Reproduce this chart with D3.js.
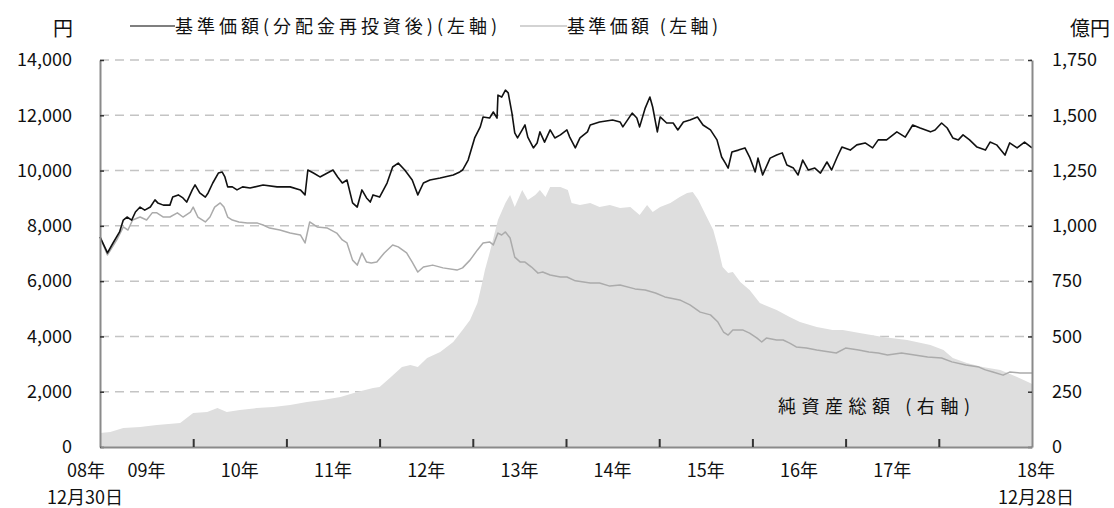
<!DOCTYPE html>
<html><head><meta charset="utf-8">
<script src="https://cdn.jsdelivr.net/npm/d3@7"></script>
<style>
html,body{margin:0;padding:0;background:#fff;}
svg text{font-family:"Noto Sans CJK JP","Noto Sans",sans-serif;fill:#111;}
</style></head>
<body><svg id="c" width="1114" height="508"></svg>
<script>
// ---- data (decimal years, 2009.00 = 2008-12-30, 2019.00 = 2018-12-28) ----
const leftTicks = [0,2000,4000,6000,8000,10000,12000,14000];
const rightTicks = [0,250,500,750,1000,1250,1500,1750];
const yearTicks = [2010,2011,2012,2013,2014,2015,2016,2017,2018];
const yearLabels = ["09年","10年","11年","12年","13年","14年","15年","16年","17年"];
const startLabel = ["08年","12月30日"];
const endLabel = ["18年","12月28日"];
const legendNames = ["基準価額(分配金再投資後)(左軸)","基準価額 (左軸)"];
const areaName = "純資産総額 (右軸)";

// 基準価額(分配金再投資後)
const reinvDates = [2009.00,2009.08,2009.14,2009.21,2009.25,2009.29,2009.34,2009.38,2009.43,2009.48,2009.54,2009.59,2009.62,2009.68,2009.75,2009.78,2009.84,2009.89,2009.93,2009.99,
2010.02,2010.07,2010.13,2010.16,2010.21,2010.27,2010.31,2010.34,2010.37,2010.42,2010.47,2010.53,2010.61,2010.75,2010.90,
2011.04,2011.15,2011.20,2011.23,2011.29,2011.36,2011.44,2011.50,2011.55,2011.60,2011.65,2011.71,2011.76,2011.81,2011.86,2011.90,2011.93,
2012.00,2012.08,2012.14,2012.20,2012.27,2012.35,2012.41,2012.47,2012.54,2012.65,2012.79,2012.86,2012.89,2012.95,
2013.02,2013.08,2013.11,2013.18,2013.22,2013.26,2013.27,2013.31,2013.35,2013.38,2013.42,2013.45,2013.48,2013.53,2013.56,2013.59,2013.65,2013.69,2013.72,2013.77,2013.83,2013.88,2013.94,
2014.01,2014.04,2014.10,2014.15,2014.23,2014.26,2014.36,2014.50,2014.58,2014.61,2014.71,2014.76,2014.79,2014.85,2014.90,2014.93,2014.98,
2015.01,2015.08,2015.15,2015.20,2015.26,2015.33,2015.41,2015.47,2015.55,2015.62,2015.67,2015.71,2015.74,2015.78,2015.85,2015.92,2015.97,
2016.03,2016.06,2016.11,2016.19,2016.26,2016.32,2016.37,2016.44,2016.49,2016.54,2016.60,2016.67,2016.73,2016.80,2016.85,2016.91,2016.96,
2017.05,2017.12,2017.21,2017.29,2017.35,2017.44,2017.55,2017.64,2017.72,2017.80,2017.91,2017.96,
2018.03,2018.09,2018.15,2018.21,2018.26,2018.33,2018.41,2018.50,2018.55,2018.62,2018.71,2018.76,2018.84,2018.92,2019.00];
const reinvValues = [7600,7020,7380,7780,8210,8320,8210,8500,8680,8570,8680,8940,8830,8750,8750,9040,9120,9010,8860,9300,
9480,9190,9040,9190,9550,9910,9950,9770,9410,9410,9300,9410,9370,9480,9410,
9410,9300,9120,10020,9910,9770,9910,10020,9770,9550,9660,8830,8680,9300,9010,8860,9120,
9040,9550,10130,10270,10020,9660,9120,9550,9660,9730,9840,9950,10020,10380,
11180,11580,11940,11900,12120,11900,12730,12660,12910,12810,12080,11360,11180,11470,11650,11210,10820,11000,11400,11030,11470,11180,11290,
11470,11210,10820,11180,11400,11650,11760,11830,11760,11580,12080,11900,11580,12260,12660,12300,11400,
11940,11720,11720,11470,11760,11830,11940,11650,11470,11110,10490,10270,10090,10670,10740,10820,10490,
9950,10450,9840,10450,10560,10640,10200,10090,9840,10380,10020,10090,9910,10310,10020,10490,10850,
10740,10930,11000,10820,11110,11110,11400,11210,11650,11540,11400,11470,
11720,11540,11180,11110,11290,11110,10850,10740,11030,10930,10560,11000,10820,11030,10820];

// 基準価額
const navDates = [2009.00,2009.08,2009.18,2009.25,2009.30,2009.35,2009.43,2009.50,2009.56,2009.61,2009.68,2009.75,2009.83,2009.89,2009.97,2010.00,
2010.05,2010.13,2010.18,2010.23,2010.29,2010.33,2010.37,2010.42,2010.49,2010.58,2010.69,2010.75,2010.82,2010.93,
2011.04,2011.15,2011.20,2011.25,2011.33,2011.44,2011.54,2011.60,2011.65,2011.71,2011.76,2011.81,2011.86,2011.91,2011.97,
2012.05,2012.14,2012.20,2012.29,2012.35,2012.41,2012.47,2012.57,2012.68,2012.83,2012.89,2012.97,
2013.05,2013.11,2013.18,2013.22,2013.27,2013.31,2013.35,2013.40,2013.45,2013.51,2013.56,2013.63,2013.70,2013.75,2013.83,2013.94,
2014.01,2014.10,2014.26,2014.36,2014.47,2014.58,2014.74,2014.85,2014.96,
2015.06,2015.22,2015.33,2015.44,2015.55,2015.63,2015.69,2015.74,2015.79,2015.90,2015.97,
2016.05,2016.10,2016.15,2016.26,2016.33,2016.40,2016.47,2016.58,2016.69,2016.83,2016.90,
2017.00,2017.14,2017.25,2017.35,2017.45,2017.60,2017.74,2017.88,
2018.03,2018.14,2018.29,2018.43,2018.50,2018.58,2018.69,2018.76,2018.87,2019.00];
const navValues = [7600,6950,7490,7960,7850,8210,8320,8210,8470,8470,8320,8320,8470,8320,8500,8680,
8320,8140,8320,8680,8830,8680,8320,8210,8140,8100,8100,8030,7920,7850,
7740,7670,7380,8140,7960,7920,7740,7490,7380,6760,6580,7020,6690,6660,6690,
7020,7310,7240,7020,6690,6330,6510,6580,6480,6400,6480,6760,
7130,7380,7420,7310,7740,7670,7780,7560,6870,6690,6690,6510,6290,6330,6220,6150,
6150,6010,5930,5930,5820,5860,5720,5680,5570,
5430,5320,5140,4880,4780,4520,4160,4050,4230,4230,4120,
3940,3800,3940,3870,3870,3760,3620,3580,3510,3440,3400,
3580,3510,3440,3400,3330,3400,3330,3260,
3220,3080,2970,2890,2790,2710,2600,2710,2680,2680];

// 純資産総額 (億円)
const aumDates = [2009.00,2009.11,2009.25,2009.43,2009.61,2009.86,2009.93,2010.00,
2010.15,2010.26,2010.36,2010.50,2010.68,2010.86,2011.04,2011.22,2011.39,2011.58,2011.76,2011.93,
2012.00,2012.11,2012.24,2012.33,2012.41,2012.51,2012.65,2012.79,2012.89,2012.97,
2013.05,2013.10,2013.13,2013.18,2013.27,2013.35,2013.40,2013.45,2013.53,2013.59,2013.67,2013.72,2013.78,2013.83,2013.94,
2014.02,2014.06,2014.15,2014.26,2014.36,2014.47,2014.58,2014.69,2014.79,2014.87,2014.93,
2015.01,2015.12,2015.22,2015.30,2015.36,2015.42,2015.51,2015.58,2015.63,2015.68,2015.74,2015.79,2015.87,2015.97,
2016.08,2016.26,2016.40,2016.51,2016.69,2016.86,2016.97,
2017.15,2017.40,2017.66,2017.91,2018.05,2018.15,2018.30,2018.47,2018.66,2018.84,2018.98,2019.00];
const aumValues = [63,68,86,90,99,109,131,154,
158,176,158,167,176,181,190,203,213,226,249,267,
271,312,362,371,362,402,430,475,529,574,
651,742,800,877,1026,1103,1140,1085,1162,1117,1140,1162,1130,1176,1176,
1162,1103,1094,1103,1085,1094,1081,1085,1049,1094,1063,
1085,1103,1130,1149,1153,1117,1040,981,904,814,787,791,746,710,
651,620,588,565,543,529,529,
516,497,484,461,439,402,380,362,348,317,289,285];

// ---- layout ----
const svg = d3.select("#c");
const L = 100, R = 1032, T = 60, B = 447;
const x = d3.scaleLinear().domain([2009, 2019]).range([L, R]);
const yL = d3.scaleLinear().domain([0, 14000]).range([B, T]);
const yR = d3.scaleLinear().domain([0, 1750]).range([B, T]);

// gridlines
svg.append("g").selectAll("line").data(leftTicks.slice(1)).join("line")
  .attr("x1", L).attr("x2", R).attr("y1", d => yL(d)).attr("y2", d => yL(d))
  .attr("stroke", "#c4c4c4").attr("stroke-width", 1.5).attr("stroke-dasharray", "9,6");

// area
const aum = aumDates.map((d, i) => [d, aumValues[i]]);
svg.append("path").datum(aum)
  .attr("d", d3.area().x(d => x(d[0])).y0(B).y1(d => yR(d[1])))
  .attr("fill", "#dedede");

// lines
const nav = navDates.map((d, i) => [d, navValues[i]]);
const reinv = reinvDates.map((d, i) => [d, reinvValues[i]]);
const line = d3.line().x(d => x(d[0])).y(d => yL(d[1]));
svg.append("path").datum(nav).attr("d", line).attr("fill", "none")
  .attr("stroke", "#ababab").attr("stroke-width", 1.5).attr("stroke-linejoin", "round");
svg.append("path").datum(reinv).attr("d", line).attr("fill", "none")
  .attr("stroke", "#111").attr("stroke-width", 1.6).attr("stroke-linejoin", "round");

// axes
const axL = svg.append("g").attr("transform", `translate(${L},0)`)
  .call(d3.axisLeft(yL).tickValues(leftTicks).tickFormat(d3.format(",")).tickSizeInner(-4).tickSizeOuter(0).tickPadding(28));
const axR = svg.append("g").attr("transform", `translate(${R},0)`)
  .call(d3.axisRight(yR).tickValues(rightTicks).tickFormat(d3.format(",")).tickSizeInner(-4).tickSizeOuter(0).tickPadding(20));
const axB = svg.append("g").attr("transform", `translate(0,${B})`)
  .call(d3.axisBottom(x).tickValues(yearTicks).tickFormat("").tickSizeInner(-8).tickSizeOuter(0));
[axL, axR, axB].forEach(g => {
  g.select(".domain").attr("stroke", "#8a8a8a").attr("stroke-width", 2);
  g.selectAll(".tick line").attr("stroke", "#333").attr("stroke-width", 1.5);
  g.selectAll("text").attr("font-size", 18).attr("fill", "#111")
   .style("font-family", '"Noto Sans CJK JP", sans-serif');
});
axB.selectAll(".tick line").attr("stroke-width", 2);

// year labels
const fs = 18;
svg.append("g").selectAll("text").data(yearLabels).join("text")
  .attr("x", (d, i) => x(2009.5 + i)).attr("y", 477).attr("text-anchor", "middle")
  .attr("font-size", fs).text(d => d);
svg.append("text").attr("x", x(2009) - 14).attr("y", 477).attr("text-anchor", "middle").attr("font-size", fs).text(startLabel[0]);
svg.append("text").attr("x", x(2009) - 15).attr("y", 504).attr("text-anchor", "middle").attr("font-size", fs).text(startLabel[1]);
svg.append("text").attr("x", x(2019) + 4).attr("y", 477).attr("text-anchor", "middle").attr("font-size", fs).text(endLabel[0]);
svg.append("text").attr("x", x(2019) + 4).attr("y", 504).attr("text-anchor", "middle").attr("font-size", fs).text(endLabel[1]);

// unit labels
svg.append("text").attr("x", 63).attr("y", 36).attr("text-anchor", "middle").attr("font-size", 20).text("円");
svg.append("text").attr("x", 1090).attr("y", 36).attr("text-anchor", "middle").attr("font-size", 20).text("億円");

// legend
svg.append("line").attr("x1", 130).attr("x2", 175).attr("y1", 26).attr("y2", 26).attr("stroke", "#555").attr("stroke-width", 1.5);
svg.append("text").attr("x", 175).attr("y", 33).attr("font-size", fs).attr("textLength", 322).attr("lengthAdjust", "spacing").text(legendNames[0]);
svg.append("line").attr("x1", 520).attr("x2", 567).attr("y1", 26).attr("y2", 26).attr("stroke", "#c4c4c4").attr("stroke-width", 1.5);
svg.append("text").attr("x", 567).attr("y", 33).attr("font-size", fs).attr("textLength", 151).attr("lengthAdjust", "spacing").text(legendNames[1]);

// area annotation
svg.append("text").attr("x", 778).attr("y", 413).attr("font-size", fs).attr("textLength", 192).attr("lengthAdjust", "spacing").text(areaName);
</script></body></html>
